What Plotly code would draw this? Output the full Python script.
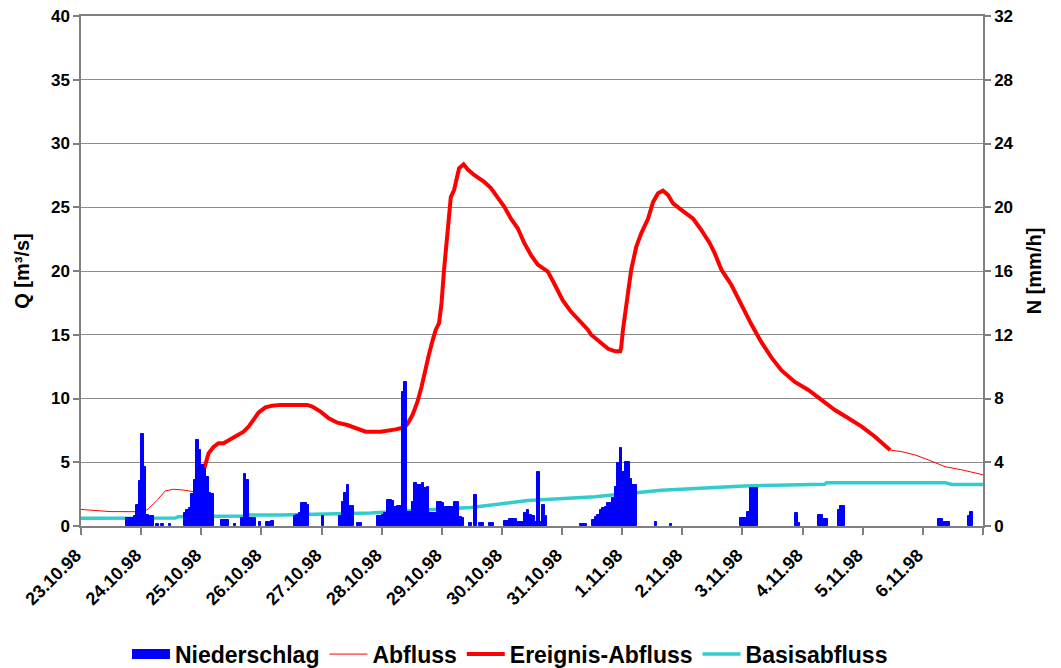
import pandas as pd
import plotly.graph_objects as go

# ---------------- data ----------------
start_date = "1998-10-23"
tick_days = ["1998-10-23", "1998-10-24", "1998-10-25", "1998-10-26", "1998-10-27",
             "1998-10-28", "1998-10-29", "1998-10-30", "1998-10-31", "1998-11-01",
             "1998-11-02", "1998-11-03", "1998-11-04", "1998-11-05", "1998-11-06",
             "1998-11-07"]
tick_labels = ["23.10.98", "24.10.98", "25.10.98", "26.10.98", "27.10.98", "28.10.98",
               "29.10.98", "30.10.98", "31.10.98", "1.11.98", "2.11.98", "3.11.98",
               "4.11.98", "5.11.98", "6.11.98", ""]

# Niederschlag [mm/h], hourly (hour after 23.10.98 00:00, value)
rain_hour = [18, 19, 20, 21, 22, 23, 24, 25, 26, 27, 28, 30, 32, 35,
             41, 42, 43, 44, 45, 46, 47, 48, 49, 50, 51, 52, 56, 57, 58, 61,
             64, 65, 66, 67, 68, 69, 71, 74, 75, 76,
             85, 86, 87, 88, 89, 90, 96,
             103, 104, 105, 106, 107, 108, 110, 111,
             118, 119, 120, 121, 122, 123, 124, 125, 126, 127, 128, 129, 130, 131,
             132, 133, 134, 135, 136, 137, 138, 139, 140, 141, 142, 143, 144, 145,
             146, 147, 148, 149, 150, 151, 152, 155, 157, 159, 160, 163, 164,
             169, 170, 171, 172, 173, 174, 175, 176, 177, 178, 179, 180, 181, 182,
             183, 184, 185, 199, 200, 201,
             204, 205, 206, 207, 208, 209, 210, 211, 212, 213, 214, 215, 216, 217,
             218, 219, 220, 221, 229, 235,
             263, 264, 265, 266, 267, 268, 269,
             285, 286, 294, 295, 296, 297, 302, 303, 304,
             342, 343, 344, 345, 346, 354, 355]
rain_mm = [0.5, 0.5, 0.5, 0.6, 1.3, 2.8, 5.8, 3.7, 0.7, 0.6, 0.6, 0.15, 0.15, 0.15,
           0.8, 1.0, 1.1, 2.0, 2.9, 5.4, 4.8, 3.8, 3.6, 3.1, 2.1, 2.0, 0.4, 0.4, 0.4, 0.15,
           0.5, 3.26, 2.9, 0.5, 0.5, 0.5, 0.27, 0.27, 0.27, 0.3,
           0.6, 0.7, 0.8, 1.46, 1.46, 1.3, 0.6,
           0.6, 1.5, 2.05, 2.57, 1.25, 1.25, 0.2, 0.2,
           0.6, 0.6, 0.7, 0.8, 1.63, 1.63, 1.55, 1.2, 1.25, 1.25, 8.4, 9.06, 0.9, 0.9,
           1.5, 2.68, 2.57, 2.57, 2.68, 2.36, 2.46, 0.8, 0.8, 0.8, 1.52, 1.52, 1.42, 1.2,
           1.2, 1.2, 1.2, 1.5, 1.5, 0.55, 0.5, 0.2, 1.94, 0.2, 0.2, 0.2, 0.2,
           0.3, 0.3, 0.45, 0.45, 0.45, 0.25, 0.25, 0.25, 0.8, 1.0, 0.7, 0.65, 0.27, 3.4,
           0.27, 1.3, 0.6, 0.15, 0.15, 0.15,
           0.4, 0.55, 0.7, 1.0, 1.1, 1.2, 1.42, 1.42, 1.73, 2.43, 3.93, 4.87, 3.4, 4.03,
           4.03, 2.93, 2.57, 2.57, 0.27, 0.15,
           0.48, 0.48, 0.48, 0.9, 2.37, 2.37, 2.37,
           0.83, 0.2, 0.7, 0.7, 0.42, 0.42, 1.0, 1.25, 1.25,
           0.42, 0.42, 0.25, 0.25, 0.25, 0.63, 0.9]

# Abfluss [m3/s] (hour, value)
q_hour = [0, 4.9, 11.6, 24.9, 26.9, 30.3, 33.6, 36.9, 40.9, 44.9, 45.6, 46.9, 48.3,
          49.6, 50.9, 52.9, 54.9, 56.9, 59.6, 62.3, 64.9, 66.9, 68.9, 70.9, 73.6, 76.3,
          79.6, 90.3, 92.3, 95.6, 98.9, 102.3, 106.3, 109.6, 113.6, 119.6, 122.3, 125.6,
          128.9, 130.3, 132.3, 134.3, 135.9, 137.2, 138.8, 140.4, 141.6, 142.9, 143.9,
          144.9, 146.3, 147.6, 148.9, 150.0, 150.9, 152.7, 154.3, 156.9, 160.9, 163.6,
          166.3, 168.9, 171.6, 174.3, 176.9, 179.6, 182.3, 186.3, 188.9, 192.3, 195.6,
          199.6, 202.3, 203.6, 207.6, 210.4, 213.2, 215.2, 215.6, 216.3, 218.3, 219.6,
          221.6, 223.6, 226.3, 228.3, 230.3, 232.3, 234.3, 236.3, 239.6, 244.3, 247.6,
          250.9, 252.9, 255.6, 259.6, 263.6, 267.6, 271.6, 275.6, 279.6, 283.6, 284.9,
          290.3, 295.6, 300.9, 306.3, 311.6, 316.9, 322.9, 327.6, 332.9, 338.3, 344.9,
          351.6, 358.3, 360.0]
q_value = [1.3, 1.22, 1.13, 1.12, 1.35, 2.0, 2.75, 2.88, 2.82, 2.69, 2.65, 3.08, 3.87,
           4.9, 5.7, 6.2, 6.5, 6.5, 6.8, 7.14, 7.4, 7.8, 8.3, 8.9, 9.3, 9.44,
           9.5, 9.5, 9.36, 8.97, 8.45, 8.1, 7.92, 7.66, 7.4, 7.4, 7.47, 7.58,
           7.74, 8.0, 8.7, 9.75, 10.9, 12.2, 13.4, 14.6, 15.4, 15.9, 17.5,
           20.1, 23.5, 25.8, 26.35, 27.4, 28.05, 28.37, 27.98, 27.53, 27.0, 26.5,
           25.8, 25.05, 24.1, 23.35, 22.2, 21.25, 20.5, 19.95, 19.0, 17.7, 16.8,
           16.0, 15.4, 15.0, 14.3, 13.9, 13.7, 13.7, 14.0, 15.4, 18.25, 20.1,
           21.9, 22.95, 24.1, 25.4, 26.1, 26.3, 25.96, 25.3, 24.8, 24.1, 23.2,
           22.2, 21.4, 20.1, 18.9, 17.3, 15.8, 14.4, 13.2, 12.2, 11.45, 11.3,
           10.67, 9.9, 9.1, 8.45, 7.8, 7.0, 5.96, 5.83, 5.57, 5.18, 4.65,
           4.4, 4.08, 4.02]

# Ereignis-Abfluss window (hours)
event_start_hour = 45.6
event_end_hour = 322.9

# Basisabfluss [m3/s] (hour, value)
base_hour = [0, 37.6, 38.8, 64.8, 65.6, 79.6, 115.6, 155.6, 178.4, 205.1, 231.6, 264.8,
             296.8, 297.6, 344.8, 347.6, 360.0]
base_value = [0.6, 0.62, 0.72, 0.78, 0.86, 0.86, 1.02, 1.45, 2.0, 2.3, 2.8, 3.14,
              3.28, 3.4, 3.4, 3.25, 3.25]

# ---------------- build ----------------
t0 = pd.Timestamp(start_date)
def to_time(hours, offset=0.0):
    return [t0 + pd.Timedelta(hours=h + offset) for h in hours]

rain_t = to_time(rain_hour, 0.5)
q_t = to_time(q_hour)
base_t = to_time(base_hour)
ev_t = [t for t, h in zip(q_t, q_hour) if event_start_hour <= h <= event_end_hour]
ev_v = [v for v, h in zip(q_value, q_hour) if event_start_hour <= h <= event_end_hour]

FONT = "Liberation Sans, Arial, sans-serif"
BLUE = "#0000FF"
RED = "#FF0000"
CYAN = "#33CCCC"
GRID = "#8C8C8C"
AX = "#808080"

fig = go.Figure()
fig.add_trace(go.Bar(x=rain_t, y=rain_mm, yaxis="y2", name="Niederschlag",
                     width=3600000, marker=dict(color=BLUE, line=dict(color=BLUE, width=1)),
                     showlegend=False))
# legend-only entry for Niederschlag (wide rectangle symbol)
fig.add_trace(go.Scatter(x=[None], y=[None], mode="lines", name="Niederschlag",
                         line=dict(color=BLUE, width=17)))
fig.add_trace(go.Scatter(x=q_t, y=q_value, mode="lines", name="Abfluss",
                         line=dict(color=RED, width=1)))
fig.add_trace(go.Scatter(x=ev_t, y=ev_v, mode="lines", name="Ereignis-Abfluss",
                         line=dict(color=RED, width=4)))
fig.add_trace(go.Scatter(x=base_t, y=base_value, mode="lines", name="Basisabfluss",
                         line=dict(color=CYAN, width=3.5)))

ytickfont = dict(family=FONT, size=17, color="black", weight="bold")
xtickfont = dict(family=FONT, size=18, color="black", weight="bold")
titlefont = dict(family=FONT, size=20, color="black", weight="bold")
fig.update_layout(
    width=1053, height=660,
    margin=dict(l=73, r=78, t=8, b=142, autoexpand=False),
    paper_bgcolor="white", plot_bgcolor="white",
    bargap=0,
    font=dict(family=FONT, color="black"),
    xaxis=dict(type="date", automargin=False,
               range=[pd.Timestamp(tick_days[0]), pd.Timestamp(tick_days[-1])],
               tickmode="array", tickvals=[pd.Timestamp(d) for d in tick_days],
               ticktext=tick_labels, tickangle=-45, tickfont=xtickfont,
               ticklabelstandoff=3, ticklabelshift=-5,
               ticks="outside", ticklen=7, tickcolor=AX, tickwidth=1.5,
               showline=True, linecolor=AX, linewidth=1.5, mirror=True,
               showgrid=False, zeroline=False),
    yaxis=dict(range=[0, 40], dtick=5, tickfont=ytickfont, automargin=False,
               ticklabeloverflow="allow",
               title=dict(text="Q [m³/s]", font=titlefont, standoff=16),
               showgrid=True, gridcolor=GRID, gridwidth=1,
               ticks="outside", ticklen=6, tickcolor=AX, tickwidth=1.5,
               showline=True, linecolor=AX, linewidth=1.5, zeroline=False),
    yaxis2=dict(range=[0, 32], dtick=4, tickfont=ytickfont, overlaying="y", side="right",
                automargin=False, ticklabeloverflow="allow",
                title=dict(text="N [mm/h]", font=titlefont, standoff=14),
                showgrid=False, ticks="outside", ticklen=6, tickcolor=AX, tickwidth=1.5,
                showline=True, linecolor=AX, linewidth=1.5, zeroline=False),
    legend=dict(orientation="h", xref="container", yref="container",
                x=0.113, xanchor="left", y=0.021, yanchor="middle",
                font=dict(family=FONT, size=23, color="black", weight="bold"),
                itemwidth=38, tracegroupgap=0, bgcolor="rgba(0,0,0,0)"),
)

fig.write_html("out.html")
